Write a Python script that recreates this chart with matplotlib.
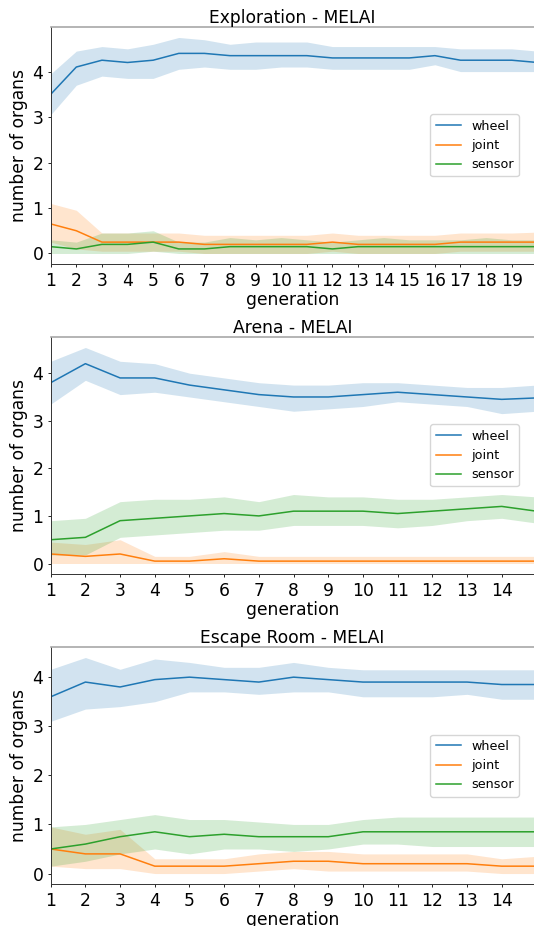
import numpy as np
import matplotlib
matplotlib.use('Agg')
import matplotlib.pyplot as plt

plt.rcParams['font.family'] = ['DejaVu Sans']

organs = ['wheel', 'joint', 'sensor']
colors = ['#1f77b4', '#ff7f0e', '#2ca02c']

# Exploration - MELAI, generations 1..20
gen_expl = list(range(1, 21))
expl_wheel = [3.5, 4.1, 4.25, 4.2, 4.25, 4.4, 4.4, 4.35, 4.35, 4.35,
              4.35, 4.3, 4.3, 4.3, 4.3, 4.35, 4.25, 4.25, 4.25, 4.2]
expl_wheel_hi = [3.95, 4.45, 4.55, 4.5, 4.6, 4.75, 4.7, 4.6, 4.65, 4.65,
                 4.65, 4.55, 4.55, 4.55, 4.55, 4.55, 4.5, 4.5, 4.5, 4.45]
expl_wheel_lo = [3.05, 3.7, 3.9, 3.85, 3.85, 4.05, 4.1, 4.05, 4.05, 4.1,
                 4.1, 4.05, 4.05, 4.05, 4.05, 4.15, 4.0, 4.0, 4.0, 4.0]
expl_joint = [0.65, 0.5, 0.25, 0.25, 0.25, 0.25, 0.2, 0.2, 0.2, 0.2,
              0.2, 0.25, 0.2, 0.2, 0.2, 0.2, 0.25, 0.25, 0.25, 0.25]
expl_joint_hi = [1.1, 0.95, 0.45, 0.45, 0.45, 0.45, 0.4, 0.4, 0.4, 0.4,
                 0.4, 0.45, 0.4, 0.4, 0.4, 0.4, 0.45, 0.45, 0.45, 0.47]
expl_joint_lo = [0.25, 0.1, 0.05, 0.05, 0.05, 0.05, 0.0, 0.0, 0.0, 0.0,
                 0.0, 0.05, 0.0, 0.0, 0.0, 0.0, 0.05, 0.05, 0.05, 0.05]
expl_sensor = [0.15, 0.1, 0.2, 0.2, 0.25, 0.1, 0.1, 0.15, 0.15, 0.15,
               0.15, 0.1, 0.15, 0.15, 0.15, 0.15, 0.15, 0.15, 0.15, 0.15]
expl_sensor_hi = [0.3, 0.25, 0.45, 0.45, 0.5, 0.25, 0.25, 0.35, 0.3, 0.35,
                  0.3, 0.25, 0.3, 0.35, 0.3, 0.3, 0.3, 0.35, 0.3, 0.3]
expl_sensor_lo = [0.0, 0.0, 0.0, 0.0, 0.05, 0.0, 0.0, 0.0, 0.0, 0.0,
                  0.0, 0.0, 0.0, 0.0, 0.0, 0.0, 0.0, 0.0, 0.0, 0.0]

# Arena - MELAI, generations 1..15
gen_arena = list(range(1, 16))
arena_wheel = [3.8, 4.2, 3.9, 3.9, 3.75, 3.65, 3.55, 3.5, 3.5, 3.55,
               3.6, 3.55, 3.5, 3.45, 3.48]
arena_wheel_hi = [4.25, 4.54, 4.25, 4.2, 4.0, 3.9, 3.8, 3.75, 3.75, 3.8,
                  3.8, 3.75, 3.7, 3.7, 3.75]
arena_wheel_lo = [3.35, 3.85, 3.55, 3.6, 3.5, 3.4, 3.3, 3.2, 3.25, 3.3,
                  3.4, 3.35, 3.3, 3.15, 3.2]
arena_joint = [0.2, 0.15, 0.2, 0.05, 0.05, 0.1, 0.05, 0.05, 0.05, 0.05,
               0.05, 0.05, 0.05, 0.05, 0.05]
arena_joint_hi = [0.45, 0.4, 0.5, 0.15, 0.15, 0.25, 0.15, 0.15, 0.15, 0.15,
                  0.15, 0.15, 0.15, 0.15, 0.15]
arena_joint_lo = [0.0, 0.0, 0.0, 0.0, 0.0, 0.0, 0.0, 0.0, 0.0, 0.0,
                  0.0, 0.0, 0.0, 0.0, 0.0]
arena_sensor = [0.5, 0.55, 0.9, 0.95, 1.0, 1.05, 1.0, 1.1, 1.1, 1.1,
                1.05, 1.1, 1.15, 1.2, 1.1]
arena_sensor_hi = [0.9, 0.95, 1.3, 1.35, 1.35, 1.4, 1.3, 1.45, 1.4, 1.4,
                   1.35, 1.35, 1.4, 1.45, 1.4]
arena_sensor_lo = [0.18, 0.18, 0.55, 0.6, 0.65, 0.7, 0.7, 0.8, 0.8, 0.8,
                   0.75, 0.8, 0.9, 0.95, 0.85]

# Escape Room - MELAI, generations 1..15
gen_escape = list(range(1, 16))
escape_wheel = [3.6, 3.9, 3.8, 3.95, 4.0, 3.95, 3.9, 4.0, 3.95, 3.9,
                3.9, 3.9, 3.9, 3.85, 3.85]
escape_wheel_hi = [4.16, 4.4, 4.16, 4.37, 4.3, 4.2, 4.2, 4.3, 4.2, 4.15,
                   4.15, 4.15, 4.15, 4.15, 4.15]
escape_wheel_lo = [3.1, 3.35, 3.4, 3.5, 3.7, 3.7, 3.65, 3.7, 3.7, 3.6,
                   3.6, 3.6, 3.65, 3.55, 3.55]
escape_joint = [0.5, 0.4, 0.4, 0.15, 0.15, 0.15, 0.2, 0.25, 0.25, 0.2,
                0.2, 0.2, 0.2, 0.15, 0.15]
escape_joint_hi = [0.95, 0.8, 0.9, 0.3, 0.3, 0.3, 0.4, 0.45, 0.45, 0.4,
                   0.4, 0.4, 0.4, 0.3, 0.35]
escape_joint_lo = [0.15, 0.1, 0.1, 0.0, 0.0, 0.0, 0.05, 0.1, 0.05, 0.05,
                   0.05, 0.05, 0.05, 0.0, 0.0]
escape_sensor = [0.5, 0.6, 0.75, 0.85, 0.75, 0.8, 0.75, 0.75, 0.75, 0.85,
                 0.85, 0.85, 0.85, 0.85, 0.85]
escape_sensor_hi = [0.95, 1.0, 1.1, 1.2, 1.1, 1.1, 1.05, 1.0, 1.0, 1.1,
                    1.15, 1.15, 1.15, 1.15, 1.15]
escape_sensor_lo = [0.15, 0.25, 0.4, 0.5, 0.4, 0.5, 0.5, 0.45, 0.5, 0.6,
                    0.6, 0.55, 0.55, 0.55, 0.55]

panels = [
    ('Exploration - MELAI', gen_expl, 19.87, list(range(1, 20)),
     [(expl_wheel, expl_wheel_lo, expl_wheel_hi),
      (expl_joint, expl_joint_lo, expl_joint_hi),
      (expl_sensor, expl_sensor_lo, expl_sensor_hi)]),
    ('Arena - MELAI', gen_arena, 14.93, list(range(1, 15)),
     [(arena_wheel, arena_wheel_lo, arena_wheel_hi),
      (arena_joint, arena_joint_lo, arena_joint_hi),
      (arena_sensor, arena_sensor_lo, arena_sensor_hi)]),
    ('Escape Room - MELAI', gen_escape, 14.93, list(range(1, 15)),
     [(escape_wheel, escape_wheel_lo, escape_wheel_hi),
      (escape_joint, escape_joint_lo, escape_joint_hi),
      (escape_sensor, escape_sensor_lo, escape_sensor_hi)]),
]

fig = plt.figure(figsize=(5.34, 9.26), dpi=100)
bottoms = [0.7146, 0.3798, 0.045]
left = 50.7 / 534
fs = 12.3

for (title, gens, xmax, ticks, series), b in zip(panels, bottoms):
    ax = fig.add_axes([left, b, 1 - left, 0.2566])
    for name, c, (mean, lo, hi) in zip(organs, colors, series):
        ax.fill_between(gens, lo, hi, color=c, alpha=0.2, linewidth=0)
        ax.plot(gens, mean, color=c, linewidth=1.1, label=name)
    ax.set_xlim(1, xmax)
    ax.set_xticks(ticks)
    ax.set_yticks([0, 1, 2, 3, 4])
    ax.tick_params(labelsize=fs, length=2.5, pad=2.7, width=0.6)
    ax.set_title(title, fontsize=fs, pad=0.6)
    ax.set_xlabel('generation', fontsize=fs, labelpad=1.2)
    ax.set_ylabel('number of organs', fontsize=fs, labelpad=3.5)
    ax.spines['right'].set_visible(False)
    for s in ['left', 'bottom']:
        ax.spines[s].set_linewidth(0.7)
        ax.spines[s].set_color('#333333')
    ax.spines['top'].set_color('#a8a8a8')
    ax.spines['top'].set_linewidth(1.2)
    ax.legend(loc='center right', bbox_to_anchor=(0.969, 0.5),
              borderaxespad=0, fontsize=9.2)

fig.savefig('out.png', dpi=100)
